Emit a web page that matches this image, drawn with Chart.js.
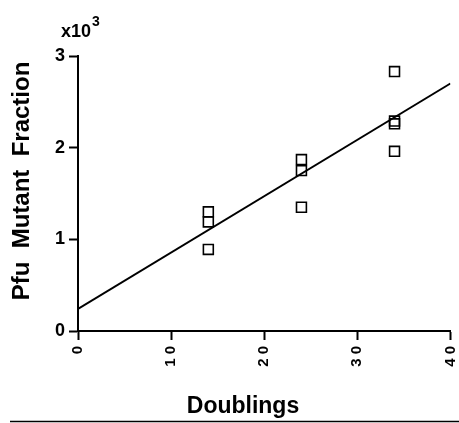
<!DOCTYPE html>
<html>
<head>
<meta charset="utf-8">
<script src="https://cdn.jsdelivr.net/npm/chart.js@4.4.1/dist/chart.umd.min.js"></script>
<style>
  html, body { margin: 0; padding: 0; background: #fff; }
  #wrap { width: 459px; height: 423px; }
</style>
</head>
<body>
<div id="wrap"><canvas id="c" width="459" height="423"></canvas></div>
<script>
// ---- data ----
const xDoublings     = [14, 14, 14, 24, 24, 24, 34, 34, 34, 34];
const mutantFraction = [1.30, 1.19, 0.89, 1.87, 1.75, 1.35, 2.83, 2.29, 2.26, 1.96];
const fitX = [0, 40];
const fitY = [0.24, 2.70];
const xTickLabels = ['0', '1 0', '2 0', '3 0', '4 0'];
const yTickLabels = ['0', '1', '2', '3'];
const xTitle = 'Doublings';
const yTitle = 'Pfu  Mutant  Fraction';
const yMultiplier = ['x10', '3'];

const FONT = '"Liberation Sans", Arial, Helvetica, sans-serif';

const points = xDoublings.map((x, i) => ({ x: x, y: mutantFraction[i] }));
const fit = fitX.map((x, i) => ({ x: x, y: fitY[i] }));

const decor = {
  id: 'decor',
  afterDraw(chart) {
    const ctx = chart.ctx;
    const a = chart.chartArea;
    ctx.save();
    ctx.fillStyle = '#000';
    // multiplier label above the y axis
    ctx.font = 'bold 18px ' + FONT;
    ctx.textAlign = 'left';
    ctx.textBaseline = 'alphabetic';
    const bx = a.left - 17;
    ctx.fillText(yMultiplier[0], bx, a.top - 19);
    const w = ctx.measureText(yMultiplier[0]).width;
    ctx.font = 'bold 14px ' + FONT;
    ctx.fillText(yMultiplier[1], bx + w + 1, a.top - 30);
    // y axis title
    ctx.font = 'bold 24px ' + FONT;
    ctx.textAlign = 'center';
    ctx.textBaseline = 'middle';
    ctx.translate(22, a.top + 125);
    ctx.rotate(-Math.PI / 2);
    ctx.fillText(yTitle, 0, 0);
    ctx.restore();
    ctx.save();
    // x axis title
    ctx.fillStyle = '#000';
    ctx.font = 'bold 23px ' + FONT;
    ctx.textAlign = 'center';
    ctx.textBaseline = 'alphabetic';
    ctx.fillText(xTitle, 243, 413);
    // rule under the figure
    ctx.strokeStyle = '#000';
    ctx.lineWidth = 1.5;
    ctx.beginPath();
    ctx.moveTo(10, 421.5);
    ctx.lineTo(459, 421.5);
    ctx.stroke();
    ctx.restore();
  }
};

new Chart(document.getElementById('c'), {
  type: 'scatter',
  data: {
    datasets: [
      {
        label: 'data',
        data: points,
        pointStyle: 'rect',
        pointRadius: 7,
        pointBorderWidth: 1.6,
        pointBorderColor: '#000',
        pointBackgroundColor: 'rgba(0,0,0,0)',
        showLine: false
      },
      {
        label: 'fit',
        type: 'line',
        data: fit,
        borderColor: '#000',
        borderWidth: 2,
        pointRadius: 0,
        fill: false
      }
    ]
  },
  options: {
    responsive: false,
    animation: false,
    devicePixelRatio: 1,
    layout: { padding: { top: 56, right: 7, left: 0, bottom: 0 } },
    plugins: {
      legend: { display: false },
      tooltip: { enabled: false },
      title: { display: false }
    },
    scales: {
      x: {
        type: 'linear',
        min: 0, max: 40,
        afterFit(s) { s.height = 92; s.paddingLeft = 0; s.paddingRight = 0; },
        border: { color: '#000', width: 2 },
        grid: { drawOnChartArea: false, drawTicks: true, tickLength: 9, tickWidth: 2, tickColor: '#000' },
        ticks: {
          stepSize: 10,
          minRotation: 90, maxRotation: 90,
          padding: 6,
          color: '#000',
          font: { family: FONT, size: 15, weight: 'bold' },
          callback: (v, i) => xTickLabels[i]
        }
      },
      y: {
        min: 0, max: 3,
        afterFit(s) { s.width = 78; s.paddingTop = 0; s.paddingBottom = 0; },
        border: { color: '#000', width: 2 },
        grid: { drawOnChartArea: false, drawTicks: true, tickLength: 9, tickWidth: 2, tickColor: '#000' },
        ticks: {
          stepSize: 1,
          padding: 4,
          color: '#000',
          font: { family: FONT, size: 18, weight: 'bold' },
          callback: (v, i) => yTickLabels[i]
        }
      }
    }
  },
  plugins: [decor]
});
</script>
</body>
</html>
